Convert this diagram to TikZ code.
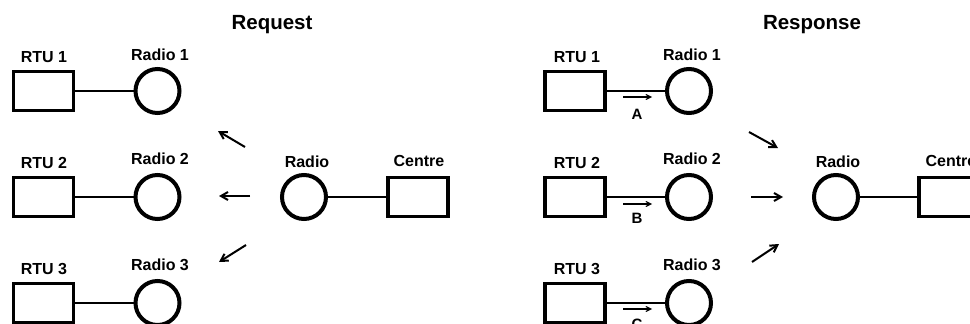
\documentclass[tikz,border=0pt]{standalone}
\usepackage{fontspec}
\setmainfont{Liberation Sans}
\usetikzlibrary{arrows.meta}
\begin{document}
\begin{tikzpicture}[x=1pt,y=-1pt,
  rtubox/.style={draw,line width=3.5pt,minimum width=60pt,minimum height=39pt,inner sep=0pt},
  radionode/.style={draw,circle,line width=4pt,minimum size=44pt,inner sep=0pt},
  lbl/.style={font=\fontsize{16}{16}\selectfont\bfseries,inner sep=0pt},
  ttl/.style={font=\fontsize{20.5}{20.5}\selectfont\bfseries,inner sep=0pt},
  link/.style={line width=2pt},
  sig/.style={line width=2pt,-{Straight Barb[length=7pt,width=8pt,line width=2pt]}},
  flow/.style={line width=1.1pt,-{Straight Barb[length=5pt,width=5pt,line width=1.1pt]}},
  flbl/.style={font=\fontsize{15}{15}\selectfont\bfseries,inner sep=0pt}]
\useasboundingbox (0,0) rectangle (970,324);
\clip (0,0) rectangle (970,324);
% ---------- Request ----------
\node[ttl] (treq) at (272,25) {Request};
\node[rtubox] (lr1) at (43.5,91) {};
\node[rtubox] (lr2) at (43.5,197) {};
\node[rtubox] (lr3) at (43.5,303) {};
\node[radionode] (lc1) at (157.5,91) {};
\node[radionode] (lc2) at (157.5,197) {};
\node[radionode] (lc3) at (157.5,303) {};
\node[lbl] (llr1) at (44,57) {RTU 1};
\node[lbl] (llr2) at (44,163) {RTU 2};
\node[lbl] (llr3) at (44,269) {RTU 3};
\node[lbl] (llc1) at (160,55) {Radio 1};
\node[lbl] (llc2) at (160,159) {Radio 2};
\node[lbl] (llc3) at (160,265) {Radio 3};
\draw[link] (lr1.east) -- (lc1.west);
\draw[link] (lr2.east) -- (lc2.west);
\draw[link] (lr3.east) -- (lc3.west);
\node[radionode] (lrad) at (304,197) {};
\node[rtubox] (lcen) at (418,197) {};
\node[lbl] (llrad) at (307,162) {Radio};
\node[lbl] (llcen) at (419,161) {Centre};
\draw[link] (lrad.east) -- (lcen.west);
\coordinate (la1s) at (245,147); \coordinate (la1e) at (218,131);
\coordinate (la2s) at (250,196); \coordinate (la2e) at (219,196);
\coordinate (la3s) at (246,245); \coordinate (la3e) at (219,262);
\draw[sig] (la1s) -- (la1e);
\draw[sig] (la2s) -- (la2e);
\draw[sig] (la3s) -- (la3e);
% ---------- Response ----------
\node[ttl] (tres) at (812,25) {Response};
\node[rtubox] (rr1) at (575,91) {};
\node[rtubox] (rr2) at (575,197) {};
\node[rtubox] (rr3) at (575,303) {};
\node[radionode] (rc1) at (689,91) {};
\node[radionode] (rc2) at (689,197) {};
\node[radionode] (rc3) at (689,303) {};
\node[lbl] (lrr1) at (577,57) {RTU 1};
\node[lbl] (lrr2) at (577,163) {RTU 2};
\node[lbl] (lrr3) at (577,269) {RTU 3};
\node[lbl] (lrc1) at (692,55) {Radio 1};
\node[lbl] (lrc2) at (692,159) {Radio 2};
\node[lbl] (lrc3) at (692,265) {Radio 3};
\draw[link] (rr1.east) -- (rc1.west);
\draw[link] (rr2.east) -- (rc2.west);
\draw[link] (rr3.east) -- (rc3.west);
\coordinate (fa1s) at (623,97); \coordinate (fa1e) at (652,97);
\coordinate (fa2s) at (623,204); \coordinate (fa2e) at (652,204);
\coordinate (fa3s) at (623,309); \coordinate (fa3e) at (652,309);
\draw[flow] (fa1s) -- (fa1e);
\draw[flow] (fa2s) -- (fa2e);
\draw[flow] (fa3s) -- (fa3e);
\node[flbl] (fla) at (637,114) {A};
\node[flbl] (flb) at (637,218) {B};
\node[flbl] (flc) at (637,324) {C};
\node[radionode] (rrad) at (836,197) {};
\node[rtubox] (rcen) at (949,197) {};
\node[lbl] (lrrad) at (838,162) {Radio};
\node[lbl] (lrcen) at (951,161) {Centre};
\draw[link] (rrad.east) -- (rcen.west);
\coordinate (ra1s) at (749,132); \coordinate (ra1e) at (778,148);
\coordinate (ra2s) at (751,197); \coordinate (ra2e) at (783,197);
\coordinate (ra3s) at (752,262); \coordinate (ra3e) at (779,244);
\draw[sig] (ra1s) -- (ra1e);
\draw[sig] (ra2s) -- (ra2e);
\draw[sig] (ra3s) -- (ra3e);
\end{tikzpicture}
\end{document}
